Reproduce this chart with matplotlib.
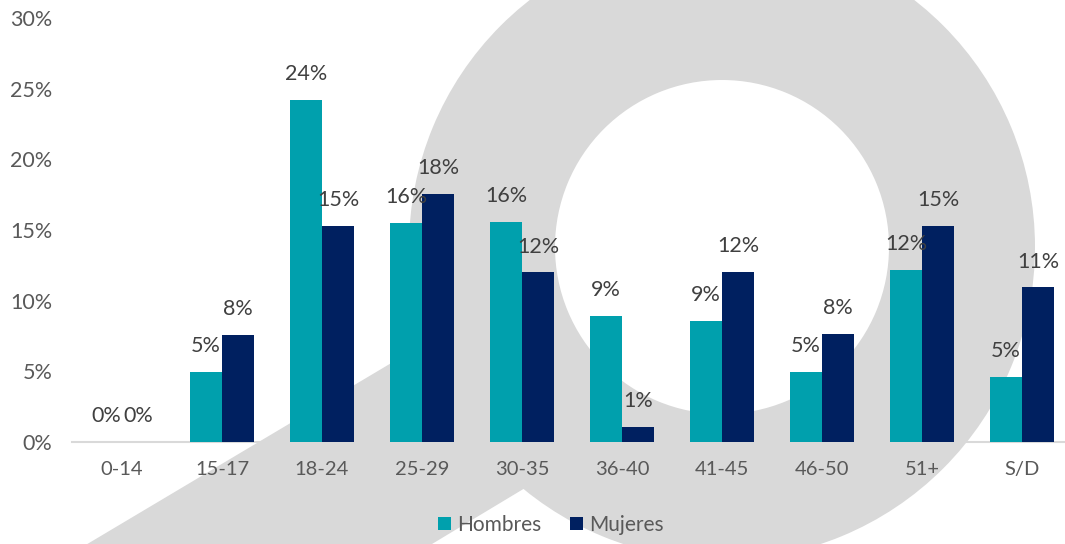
import matplotlib
matplotlib.use("Agg")
import matplotlib.pyplot as plt
from matplotlib.patches import Wedge, Polygon, Patch
import numpy as np

# ---- data ----
categories = ["0-14", "15-17", "18-24", "25-29", "30-35", "36-40", "41-45", "46-50", "51+", "S/D"]
hombres = [0.0, 4.95, 24.2, 15.5, 15.6, 8.95, 8.55, 4.95, 12.2, 4.6]
mujeres = [0.0, 7.6, 15.3, 17.55, 12.0, 1.05, 12.05, 7.65, 15.3, 10.95]
series_names = ["Hombres", "Mujeres"]
yticks = [0, 5, 10, 15, 20, 25, 30]

# ---- style ----
C_H = "#00A0AD"
C_M = "#002060"
C_WM = "#D9D9D9"
FONT = ["Lato", "DejaVu Sans"]
plt.rcParams["font.family"] = FONT

W, H = 1065, 544
fig = plt.figure(figsize=(W / 100, H / 100), dpi=100)

# ---- background watermark (decorative logo shape, in figure pixels) ----
bg = fig.add_axes([0, 0, 1, 1], zorder=0)
bg.set_xlim(0, W)
bg.set_ylim(H, 0)
bg.axis("off")
ring_center = (722, 247)
r_out, r_in = 313, 167
bg.add_patch(Wedge(ring_center, r_out, 0, 360, width=r_out - r_in, facecolor=C_WM, edgecolor="none"))
bg.add_patch(Polygon([(0, 596), (440, 334), (540, 479), (339, 600)], closed=True,
                     facecolor=C_WM, edgecolor="none"))

# ---- chart ----
ax_left, ax_right = 72, 1072
y0_px, y30_px = 442, 18
ax = fig.add_axes([ax_left / W, 1 - y0_px / H, (ax_right - ax_left) / W, (y0_px - y30_px) / H], zorder=1)
ax.patch.set_alpha(0)

x = np.arange(len(categories))
bw = 0.32
b1 = ax.bar(x - bw / 2, hombres, bw, color=C_H, label=series_names[0], zorder=2)
b2 = ax.bar(x + bw / 2, mujeres, bw, color=C_M, label=series_names[1], zorder=2)

for bars, vals in ((b1, hombres), (b2, mujeres)):
    for rect, v in zip(bars, vals):
        ax.annotate(f"{v:.0f}%", (rect.get_x() + rect.get_width() / 2, v),
                    xytext=(0, 18.5), textcoords="offset points",
                    ha="center", va="center", fontsize=15.5, color="#404040", zorder=3)

ax.set_xlim(-0.5, len(categories) - 0.5)
ax.set_ylim(0, 30)
ax.set_yticks(yticks)
ax.set_yticklabels([f"{t}%" for t in yticks])
ax.set_xticks(x)
ax.set_xticklabels(categories)
ax.tick_params(axis="both", length=0, labelsize=14.5, colors="#595959")
ax.tick_params(axis="x", pad=14)
ax.tick_params(axis="y", labelsize=15.5, pad=14)
for s in ("top", "right", "left"):
    ax.spines[s].set_visible(False)
ax.spines["bottom"].set_color(C_WM)
ax.spines["bottom"].set_linewidth(1.5)
ax.spines["bottom"].set_zorder(1)

handles = [Patch(facecolor=C_H), Patch(facecolor=C_M)]
fig.legend(handles, series_names, loc="center", bbox_to_anchor=(551 / W, 1 - 525 / H),
           ncol=2, frameon=False, fontsize=15, labelcolor="#595959",
           handlelength=0.6, handleheight=0.6, handletextpad=0.3, columnspacing=1.4)

fig.savefig("out.png", dpi=100)
